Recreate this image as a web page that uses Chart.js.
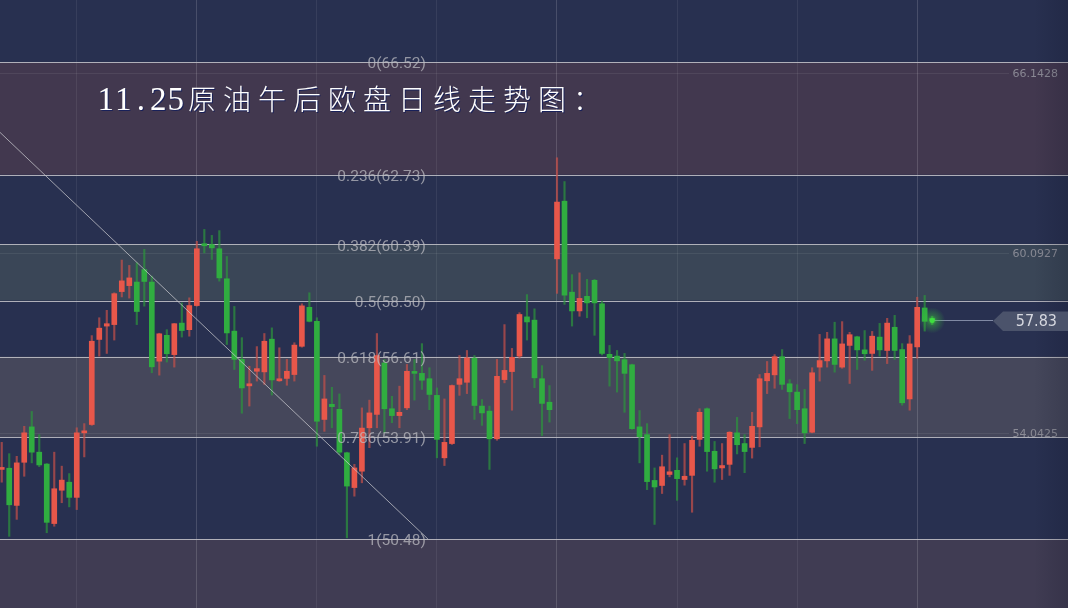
<!DOCTYPE html>
<html>
<head>
<meta charset="utf-8">
<script src="https://cdn.jsdelivr.net/npm/chart.js@4.4.1/dist/chart.umd.min.js"></script>
<style>
html, body { margin: 0; padding: 0; background: #283050; overflow: hidden; }
#wrap { width: 1068px; height: 608px; }
</style>
</head>
<body>
<div id="wrap"><canvas id="chart" width="1068" height="608"></canvas></div>
<script>
const title = '11.25原油午后欧盘日线走势图：';

// daily candles (red = up, green = down)
const opens = [52.82,52.86,51.61,53.06,54.25,53.40,53.00,51.00,52.12,52.39,51.88,54.05,54.33,57.19,57.64,57.69,58.80,59.00,59.12,59.54,
  59.12,56.46,57.33,56.68,57.74,57.52,58.33,60.41,60.38,60.24,59.23,57.47,56.52,55.63,56.12,56.10,57.20,55.80,55.88,56.01,
  56.96,58.27,57.80,54.50,55.01,54.84,53.38,52.21,52.76,54.22,54.67,56.40,54.86,54.63,54.89,56.10,56.05,55.87,55.31,53.21,
  53.69,55.68,55.75,56.56,54.95,54.78,53.85,55.84,56.11,56.63,57.95,57.84,55.87,55.08,59.90,61.84,58.78,58.15,58.64,59.18,
  58.39,56.69,56.63,56.51,56.34,54.25,53.99,52.45,52.28,52.65,52.79,52.48,52.62,53.83,54.86,53.43,52.87,52.99,54.05,53.69,
  53.56,54.25,55.80,56.00,56.61,55.70,55.42,54.86,54.07,56.26,56.47,57.21,56.26,56.99,57.28,56.84,56.72,57.27,56.82,57.60,
  56.85,55.19,56.94,58.25,57.85];
const highs = [53.73,53.35,53.26,54.27,54.77,53.99,53.02,53.40,52.93,52.68,54.22,54.36,57.32,57.92,58.17,58.76,59.86,59.68,59.77,60.22,
  59.32,57.40,57.52,57.73,58.42,58.59,60.49,60.89,60.69,60.85,59.98,58.30,57.25,56.29,56.95,57.39,57.58,56.91,56.52,57.08,
  58.39,58.76,57.92,55.98,55.58,55.36,53.40,52.99,54.89,55.15,57.39,56.52,55.28,55.62,56.35,56.52,57.05,56.24,55.56,55.19,
  55.66,56.65,56.82,56.65,55.17,54.95,56.52,57.69,56.89,58.09,58.70,58.22,56.31,55.64,63.30,62.50,59.37,59.43,59.21,59.21,
  58.48,56.99,56.82,56.72,56.36,54.80,54.36,52.87,53.30,53.99,53.21,53.69,53.94,54.86,54.89,53.76,53.69,54.09,54.57,53.99,
  54.74,56.01,56.45,56.68,56.85,55.84,55.67,55.51,56.24,57.36,57.43,57.77,57.79,57.43,57.30,57.49,57.46,57.73,57.90,58.00,
  57.05,57.32,58.61,58.67,57.97];
const lows = [52.39,50.57,51.14,52.59,53.04,52.91,50.69,50.91,51.70,51.56,51.47,53.24,54.30,56.63,56.72,57.17,58.62,58.58,57.69,58.31,
  56.07,55.99,56.43,56.26,57.27,57.30,58.31,60.10,59.88,59.15,57.02,56.18,54.71,54.95,55.79,55.68,55.32,55.78,55.65,55.79,
  56.93,57.78,53.60,54.10,54.22,53.32,50.52,51.92,52.37,53.55,54.22,54.05,54.39,54.22,54.83,55.15,55.51,54.83,53.21,52.95,
  53.66,55.31,55.37,54.50,54.30,52.82,53.80,55.73,54.81,56.56,57.17,55.57,53.96,54.41,58.74,58.37,57.64,57.97,57.92,57.33,
  56.67,55.62,55.42,54.74,54.17,53.04,52.14,50.97,52.01,52.57,51.78,52.29,51.38,53.60,52.76,52.39,52.48,52.62,53.34,52.71,
  53.20,53.58,55.37,55.55,55.51,54.53,54.36,53.69,54.05,55.79,56.26,56.09,56.22,55.71,56.18,56.49,56.15,56.63,56.38,56.52,
  54.98,54.81,56.56,57.47,57.69];
const closes = [52.87,51.63,53.04,54.05,53.40,52.97,51.04,52.17,52.46,51.88,54.05,54.10,57.13,57.57,57.72,58.73,59.16,59.26,58.13,59.14,
  56.27,57.38,56.71,57.72,57.49,58.33,60.24,60.34,60.27,59.26,57.41,56.52,55.56,55.70,56.21,57.13,55.83,55.85,56.12,57.00,
  58.32,57.80,54.44,55.19,54.93,53.40,52.26,52.87,54.21,54.72,56.65,54.86,54.63,54.74,56.12,56.05,55.82,55.34,53.83,53.73,
  55.64,55.87,56.57,54.97,54.72,53.85,55.95,56.15,56.59,58.03,57.78,55.90,55.04,54.83,61.81,58.68,58.15,58.57,58.42,58.42,
  56.72,56.58,56.47,56.05,54.19,53.92,52.41,52.23,52.91,52.74,52.51,52.59,53.80,54.74,53.42,52.84,52.95,54.07,53.65,53.42,
  54.27,55.87,56.05,56.61,55.68,55.43,54.83,54.05,56.07,56.48,57.21,56.35,57.04,57.35,56.84,56.71,57.30,56.84,57.74,56.82,
  55.06,57.04,58.27,57.80,57.83];

// fibonacci retracement drawn on the chart
const fibRatios = ['0', '0.236', '0.382', '0.5', '0.618', '0.786', '1'];
const fibPrices = [66.52, 62.73, 60.39, 58.50, 56.61, 53.91, 50.48];
const fibFills = ['#42384f', null, '#3a4657', null, '#45475b', null, '#403c53'];
const trendX = [-10.1, 56.8];
const trendY = [66.52, 50.48];

// price axis labels on the right
const yTickLabels = ['66.1428', '60.0927', '54.0425'];
const yTickValues = [66.1428, 60.0927, 54.0425];

const xGridTicks = [10, 26, 42, 58, 74, 90, 106, 122];
const xMajorTicks = [26, 74, 122];
const lastPrice = 57.83;

const upColor = '#e8574a';
const downColor = '#30ad40';
const isUp = i => closes[i] >= opens[i];

const bgPlugin = {
  id: 'bg',
  beforeDraw(chart) {
    const { ctx, width, height, scales: { y } } = chart;
    ctx.save();
    ctx.fillStyle = '#283050';
    ctx.fillRect(0, 0, width, height);
    for (let i = 0; i < fibFills.length; i++) {
      if (!fibFills[i]) continue;
      const y1 = y.getPixelForValue(fibPrices[i]);
      const y2 = i + 1 < fibPrices.length ? y.getPixelForValue(fibPrices[i + 1]) : height;
      ctx.fillStyle = fibFills[i];
      ctx.fillRect(0, y1, width, y2 - y1);
    }
    ctx.strokeStyle = 'rgba(255,255,255,0.07)';
    ctx.lineWidth = 1;
    yTickValues.forEach(v => {
      const py = Math.round(y.getPixelForValue(v)) + 0.5;
      ctx.beginPath();
      ctx.moveTo(0, py);
      ctx.lineTo(width - 59, py);
      ctx.stroke();
    });
    ctx.restore();
  },
  beforeDatasetsDraw(chart) {
    const { ctx, width, scales: { y } } = chart;
    ctx.save();
    ctx.strokeStyle = 'rgba(190,190,196,0.9)';
    ctx.lineWidth = 1;
    fibPrices.forEach(p => {
      const py = Math.round(y.getPixelForValue(p)) + 0.5;
      ctx.beginPath();
      ctx.moveTo(0, py);
      ctx.lineTo(width, py);
      ctx.stroke();
    });
    ctx.restore();
  },
  afterDatasetsDraw(chart) {
    const { ctx, width, scales: { x, y } } = chart;
    ctx.save();
    // fib labels
    ctx.font = '15.5px Roboto';
    ctx.fillStyle = 'rgba(190,190,196,0.72)';
    ctx.textAlign = 'right';
    ctx.textBaseline = 'middle';
    const lx = x.getPixelForValue(trendX[1]) - 2;
    fibPrices.forEach((p, i) => {
      ctx.fillText(fibRatios[i] + '(' + p.toFixed(2) + ')', lx, y.getPixelForValue(p) + 2.5);
    });
    // right axis labels
    ctx.font = '11px "DejaVu Sans"';
    ctx.fillStyle = 'rgba(150,150,160,0.85)';
    yTickValues.forEach((v, i) => {
      ctx.fillText(yTickLabels[i], width - 10, y.getPixelForValue(v) + 1);
    });
    // right edge shade
    const g = ctx.createLinearGradient(width - 34, 0, width, 0);
    g.addColorStop(0, 'rgba(10,12,30,0)');
    g.addColorStop(1, 'rgba(10,12,30,0.18)');
    ctx.fillStyle = g;
    ctx.fillRect(width - 34, 0, 34, chart.height);
    ctx.restore();
  },
  afterDraw(chart) {
    const { ctx, width, scales: { x, y } } = chart;
    ctx.save();
    // last price marker
    const px = x.getPixelForValue(closes.length - 1);
    const py = y.getPixelForValue(lastPrice);
    ctx.strokeStyle = 'rgba(150,160,185,0.8)';
    ctx.lineWidth = 1;
    ctx.beginPath();
    ctx.moveTo(px, Math.round(py) + 0.5);
    ctx.lineTo(993, Math.round(py) + 0.5);
    ctx.stroke();
    ctx.fillStyle = '#4b536b';
    ctx.beginPath();
    ctx.moveTo(993, py + 0.5);
    ctx.lineTo(1003, py - 9);
    ctx.lineTo(width, py - 9);
    ctx.lineTo(width, py + 10.5);
    ctx.lineTo(1003, py + 10.5);
    ctx.closePath();
    ctx.fill();
    ctx.font = '16px "Liberation Sans Narrow", "DejaVu Sans Condensed", "Liberation Sans"';
    ctx.fillStyle = '#d6d8e0';
    ctx.textAlign = 'right';
    ctx.textBaseline = 'middle';
    ctx.fillText(lastPrice.toFixed(2), width - 11, py + 1);
    const rg = ctx.createRadialGradient(px, py, 0, px, py, 13);
    rg.addColorStop(0, 'rgba(70,230,70,0.75)');
    rg.addColorStop(0.4, 'rgba(60,200,60,0.35)');
    rg.addColorStop(1, 'rgba(60,200,60,0)');
    ctx.fillStyle = rg;
    ctx.beginPath();
    ctx.arc(px, py, 13, 0, Math.PI * 2);
    ctx.fill();
    ctx.fillStyle = '#3fe03f';
    ctx.beginPath();
    ctx.arc(px, py, 2.5, 0, Math.PI * 2);
    ctx.fill();

    // title
    ctx.fillStyle = '#ffffff';
    ctx.shadowColor = 'rgba(20,30,90,0.9)';
    ctx.shadowOffsetX = 1;
    ctx.shadowOffsetY = 1;
    ctx.textAlign = 'center';
    ctx.textBaseline = 'alphabetic';
    let tx = 97;
    for (const ch of title) {
      const half = ch.charCodeAt(0) < 256;
      const w = half ? 17.5 : 35;
      ctx.font = half ? '33px "Liberation Serif"' : '300 28px "Noto Sans CJK SC"';
      ctx.fillText(ch, tx + w / 2, 110);
      tx += w;
    }
    ctx.restore();
  }
};

const idx = opens.map((o, i) => i);

new Chart(document.getElementById('chart'), {
  type: 'bar',
  data: {
    datasets: [{
      type: 'line',
      data: trendX.map((v, i) => ({ x: v, y: trendY[i] })),
      borderColor: 'rgba(200,200,206,0.75)',
      borderWidth: 1,
      pointRadius: 0,
      order: 0
    }, {
      label: 'body',
      data: idx.map(i => ({ x: i, y: [Math.min(opens[i], closes[i]), Math.max(opens[i], closes[i])] })),
      backgroundColor: c => isUp(c.dataIndex) ? upColor : downColor,
      barThickness: 5,
      minBarLength: 2,
      grouped: false,
      order: 1
    }, {
      label: 'wick',
      data: idx.map(i => ({ x: i, y: [lows[i], highs[i]] })),
      backgroundColor: c => isUp(c.dataIndex) ? 'rgba(200,80,72,0.7)' : 'rgba(44,150,60,0.7)',
      barThickness: 1.5,
      grouped: false,
      order: 2
    }]
  },
  options: {
    responsive: false,
    animation: false,
    layout: { padding: 0 },
    plugins: { legend: { display: false }, tooltip: { enabled: false } },
    scales: {
      x: {
        type: 'linear',
        min: -0.23,
        max: 142.1,
        offset: false,
        ticks: { display: false },
        afterBuildTicks: s => { s.ticks = xGridTicks.map(v => ({ value: v })); },
        grid: {
          offset: false,
          drawTicks: false,
          color: c => (c.tick && xMajorTicks.includes(c.tick.value)) ? 'rgba(255,255,255,0.15)' : 'rgba(255,255,255,0.07)'
        },
        border: { display: false }
      },
      y: { min: 48.16, max: 68.605, display: false }
    }
  },
  plugins: [bgPlugin]
});
</script>
</body>
</html>
